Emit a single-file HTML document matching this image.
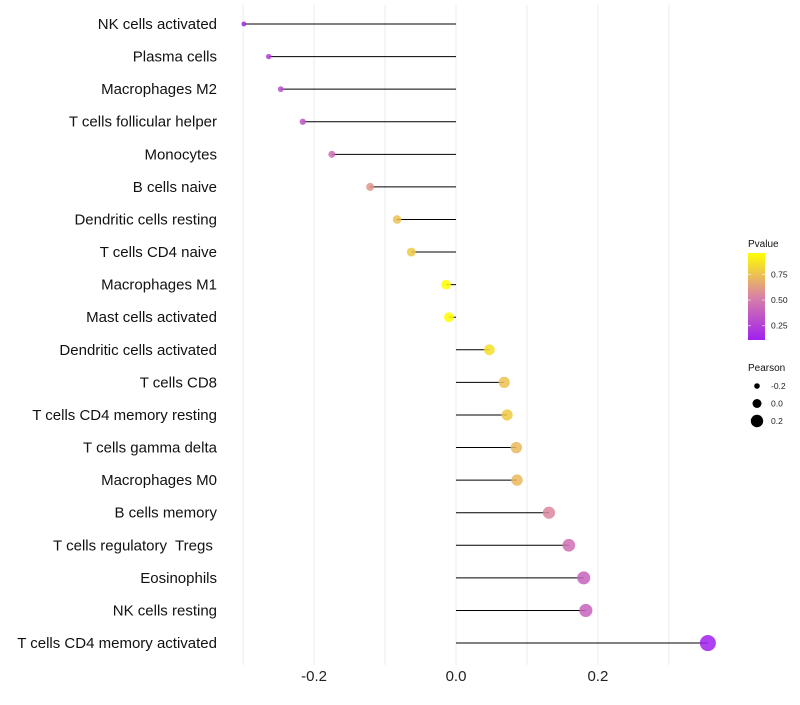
<!DOCTYPE html>
<html><head><meta charset="utf-8"><style>
body{margin:0;background:#fff;font-family:"Liberation Sans",sans-serif}
text{white-space:pre}
</style></head><body>
<svg id="c" width="800" height="700" xmlns="http://www.w3.org/2000/svg" font-family="Liberation Sans, sans-serif"></svg>
<script>
const categories=["NK cells activated","Plasma cells","Macrophages M2","T cells follicular helper","Monocytes","B cells naive","Dendritic cells resting","T cells CD4 naive","Macrophages M1","Mast cells activated","Dendritic cells activated","T cells CD8","T cells CD4 memory resting","T cells gamma delta","Macrophages M0","B cells memory","T cells regulatory  Tregs ","Eosinophils","NK cells resting","T cells CD4 memory activated"];
const pearson=[-0.299,-0.264,-0.247,-0.216,-0.175,-0.121,-0.083,-0.063,-0.014,-0.010,0.047,0.068,0.072,0.085,0.086,0.131,0.159,0.180,0.183,0.355];
const pvalues=[0.15,0.25,0.3,0.35,0.45,0.6,0.75,0.78,0.97,0.97,0.85,0.75,0.78,0.72,0.72,0.55,0.45,0.4,0.4,0.11];
const xTicks=[-0.2,0.0,0.2];
const xTickLabels=["-0.2","0.0","0.2"];
const pTicks=[0.25,0.5,0.75];
const pTickLabels=["0.25","0.50","0.75"];
const sizeLegend=[-0.2,0.0,0.2];
const sizeLegendLabels=["-0.2","0.0","0.2"];

const svg=document.getElementById('c');
const NS="http://www.w3.org/2000/svg";
function mk(t,a,p){const e=document.createElementNS(NS,t);for(const k in a)e.setAttribute(k,a[k]);(p||svg).appendChild(e);return e;}
const x=v=>456+v*709.5;
const y=i=>24+i*32.58;
const pMin=0.11,pMax=0.96;
const py=p=>340-(p-pMin)/(pMax-pMin)*87;
const stops=[[0,[160,32,240]],[0.5,[217,130,164]],[1,[255,255,0]]];
function col(p){let t=Math.max(0,Math.min(1,(p-pMin)/(pMax-pMin)));let i=t<=0.5?0:1;let a=stops[i],b=stops[i+1];let f=(t-a[0])/(b[0]-a[0]);let c=a[1].map((v,k)=>Math.round(v+(b[1][k]-v)*f));return `rgb(${c.join(',')})`;}
const r=v=>Math.max(1.5,5+v*8.5);

for(let v=-0.3;v<=0.36;v+=0.1){
  const g=mk('line',{x1:x(v),x2:x(v),y1:5,y2:665,stroke:'#ebebeb','stroke-width':1});
  
  
}
xTicks.forEach((v,i)=>{
  const t=mk('text',{x:x(v),y:681,'text-anchor':'middle','font-size':15,fill:'#222'});
  t.textContent=xTickLabels[i];
  
  
});
categories.forEach((c,i)=>{
  const t=mk('text',{x:217,y:y(i)+5,'text-anchor':'end','font-size':15,fill:'#111'});
  t.textContent=c;
  
  
  const l=mk('line',{x1:x(0),x2:x(pearson[i]),y1:y(i),y2:y(i),stroke:'#000','stroke-width':1});
  
  
  const d=mk('circle',{cx:x(pearson[i]),cy:y(i),r:r(pearson[i]),fill:col(pvalues[i]),'fill-opacity':0.85});
  
  
});
const defs=mk('defs',{});
const lg=mk('linearGradient',{id:'g',x1:0,y1:1,x2:0,y2:0},defs);
[0,0.25,0.5,0.75,1].forEach(t=>mk('stop',{offset:t,'stop-color':col(pMin+t*(pMax-pMin))},lg));
let tt=mk('text',{x:748,y:247,'font-size':10,fill:'#111'});tt.textContent='Pvalue';


const bar=mk('rect',{x:748,y:253,width:17,height:87,fill:'url(#g)'});


pTicks.forEach((p,i)=>{
  mk('line',{x1:748,x2:751,y1:py(p),y2:py(p),stroke:'#fff','stroke-opacity':0.6});
  mk('line',{x1:762,x2:765,y1:py(p),y2:py(p),stroke:'#fff','stroke-opacity':0.6});
  const t=mk('text',{x:771,y:py(p)+3,'font-size':8.5,fill:'#222'});t.textContent=pTickLabels[i];
  
  
});
tt=mk('text',{x:748,y:371,'font-size':10,fill:'#111'});tt.textContent='Pearson';


sizeLegend.forEach((v,i)=>{
  const cy=386+i*17.5;
  const d=mk('circle',{cx:757,cy:cy,r:r(v)-0.5,fill:'#000'});
  
  
  const t=mk('text',{x:771,y:cy+3,'font-size':8.5,fill:'#222'});t.textContent=sizeLegendLabels[i];
  
  
});
</script>
</body></html>
